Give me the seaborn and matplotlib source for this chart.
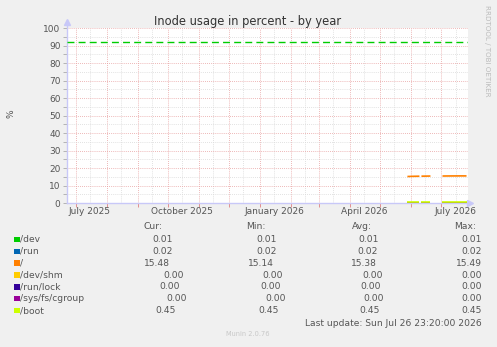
import numpy as np
import pandas as pd
import matplotlib
matplotlib.use("Agg")
import matplotlib.pyplot as plt
import matplotlib.dates as mdates
from matplotlib.patches import Rectangle
from matplotlib.ticker import MultipleLocator, NullFormatter
import seaborn as sns

# ---------------- data ----------------
series_names = ["/dev", "/run", "/", "/dev/shm", "/run/lock", "/sys/fs/cgroup", "/boot"]
series_colors = ["#00CC00", "#0066B3", "#FF8000", "#FFCC00", "#330099", "#990099", "#CCFF00"]

sample_dates = ["2026-05-28", "2026-06-03", "2026-06-09",
                "2026-06-11", "2026-06-15", "2026-06-20",
                "2026-07-02", "2026-07-08", "2026-07-14", "2026-07-20", "2026-07-26"]
segment_ids = [0, 0, 0, 1, 1, 1, 2, 2, 2, 2, 2]

dev_values = [0.01, 0.01, 0.01, 0.01, 0.01, 0.01, 0.01, 0.01, 0.01, 0.01, 0.01]
run_values = [0.02, 0.02, 0.02, 0.02, 0.02, 0.02, 0.02, 0.02, 0.02, 0.02, 0.02]
root_values = [15.14, 15.25, 15.31, 15.33, 15.36, 15.40, 15.42, 15.45, 15.47, 15.49, 15.48]
shm_values = [0.00, 0.00, 0.00, 0.00, 0.00, 0.00, 0.00, 0.00, 0.00, 0.00, 0.00]
lock_values = [0.00, 0.00, 0.00, 0.00, 0.00, 0.00, 0.00, 0.00, 0.00, 0.00, 0.00]
cgroup_values = [0.00, 0.00, 0.00, 0.00, 0.00, 0.00, 0.00, 0.00, 0.00, 0.00, 0.00]
boot_values = [0.45, 0.45, 0.45, 0.45, 0.45, 0.45, 0.45, 0.45, 0.45, 0.45, 0.45]

cur_values = ["0.01", "0.02", "15.48", "0.00", "0.00", "0.00", "0.45"]
min_values = ["0.01", "0.02", "15.14", "0.00", "0.00", "0.00", "0.45"]
avg_values = ["0.01", "0.02", "15.38", "0.00", "0.00", "0.00", "0.45"]
max_values = ["0.01", "0.02", "15.49", "0.00", "0.00", "0.00", "0.45"]

warning_level = 92
x_start = "2025-06-21 23:20"
x_end = "2026-07-26 23:20"
x_label_dates = ["2025-07-15", "2025-10-15", "2026-01-15", "2026-04-15", "2026-07-15"]
x_tick_labels = ["July 2025", "October 2025", "January 2026", "April 2026", "July 2026"]

title_text = "Inode usage in percent - by year"
y_label = "%"
last_update = "Last update: Sun Jul 26 23:20:00 2026"
footer = "Munin 2.0.76"
side_text = "RRDTOOL / TOBI OETIKER"

# ---------------- build frame ----------------
all_values = [dev_values, run_values, root_values, shm_values, lock_values, cgroup_values, boot_values]
rows = []
for name, vals in zip(series_names, all_values):
    for d, s, v in zip(sample_dates, segment_ids, vals):
        rows.append({"date": pd.Timestamp(d), "seg": s, "value": v, "series": name})
df = pd.DataFrame(rows)

# ---------------- figure ----------------
W, H = 497, 347
plt.rcParams["font.family"] = ["DejaVu Sans"]
fig = plt.figure(figsize=(W / 100, H / 100), dpi=100, facecolor="#F0F0F0")

def fx(x):
    return x / W

def fy(y):
    return 1 - y / H

ax = fig.add_axes([fx(66.7), fy(203), (467.5 - 66.7) / W, 175 / H])
ax.set_facecolor("white")

sns.lineplot(data=df, x="date", y="value", hue="series", units="seg", estimator=None,
             hue_order=series_names, palette=dict(zip(series_names, series_colors)),
             linewidth=1.2, legend=False, ax=ax, zorder=3, solid_capstyle="butt")

ax.axhline(warning_level, color="#00CC00", linewidth=1.0, dashes=(5, 3), zorder=3)

ax.set_xlim(pd.Timestamp(x_start), pd.Timestamp(x_end))
ax.set_ylim(0, 100)
ax.set_xlabel("")
ax.set_ylabel("")

# y axis
ax.yaxis.set_major_locator(MultipleLocator(10))
ax.yaxis.set_minor_locator(MultipleLocator(5))
ax.tick_params(axis="y", which="both", direction="out", length=3, width=0.6,
               color="#AAAAAA", labelsize=6.5, labelcolor="#555555", pad=1.5)

# x axis
ax.xaxis.set_major_locator(mdates.MonthLocator())
ax.xaxis.set_major_formatter(NullFormatter())
mid_months = pd.date_range("2025-07-01", "2026-07-01", freq="MS") + pd.Timedelta(days=14)
label_map = dict(zip([pd.Timestamp(d) for d in x_label_dates], x_tick_labels))
ax.set_xticks(mid_months, labels=[label_map.get(d, "") for d in mid_months], minor=True)
ax.tick_params(axis="x", which="major", direction="out", length=3, width=0.6, color="#E08080")
ax.tick_params(axis="x", which="minor", length=0, labelsize=6.5, labelcolor="#555555", pad=3)

# grids
ax.grid(which="major", color="#E8A0A0", linestyle=(0, (1, 1.5)), linewidth=0.6, zorder=0)
ax.grid(which="minor", color="#D8D8D8", linestyle=(0, (1, 1.5)), linewidth=0.6, zorder=0)
ax.set_axisbelow(True)

for side in ["top", "right"]:
    ax.spines[side].set_visible(False)
for side in ["left", "bottom"]:
    ax.spines[side].set_color("#C8C8F8")
    ax.spines[side].set_linewidth(1.0)
ax.spines["left"].set_bounds(0, 104)
ax.plot([0], [1.035], marker="^", color="#C8C8F8", markersize=4, transform=ax.transAxes, clip_on=False)
ax.plot([1.007], [0], marker=">", color="#C8C8F8", markersize=4, transform=ax.transAxes, clip_on=False)

# texts
fig.text(fx(248), fy(22), title_text, ha="center", va="center", fontsize=8.3, color="#333333")
fig.text(fx(10.5), fy(114), y_label, ha="center", va="center", rotation=90, fontsize=6.5, color="#555555")
fig.text(fx(487), fy(51), side_text, ha="center", va="center", rotation=270, fontsize=5.1, color="#BBBBBB")

# legend
hdr_y = 226.5
fs = 6.6
tc = "#555555"
fig.text(fx(143.3), fy(hdr_y), "Cur:", ha="left", va="center", fontsize=fs, color=tc)
fig.text(fx(246.5), fy(hdr_y), "Min:", ha="left", va="center", fontsize=fs, color=tc)
fig.text(fx(351.7), fy(hdr_y), "Avg:", ha="left", va="center", fontsize=fs, color=tc)
fig.text(fx(454), fy(hdr_y), "Max:", ha="left", va="center", fontsize=fs, color=tc)

cur_x = [173, 173, 170, 184, 180, 187, 176]
min_x = [276.7, 276.7, 274, 283.3, 281, 286, 278.3]
avg_x = [378.3, 378.3, 377.3, 383.3, 381, 384.3, 380]
max_x = [481.7] * 7
for i, (name, col) in enumerate(zip(series_names, series_colors)):
    yy = 239.5 + i * 11.85
    fig.patches.append(Rectangle((fx(14), fy(yy + 2.7)), 5.5 / W, 5.5 / H,
                                 transform=fig.transFigure, facecolor=col, edgecolor="none"))
    fig.text(fx(20.3), fy(yy), name, ha="left", va="center", fontsize=fs, color=tc)
    fig.text(fx(cur_x[i]), fy(yy), cur_values[i], ha="right", va="center", fontsize=fs, color=tc)
    fig.text(fx(min_x[i]), fy(yy), min_values[i], ha="right", va="center", fontsize=fs, color=tc)
    fig.text(fx(avg_x[i]), fy(yy), avg_values[i], ha="right", va="center", fontsize=fs, color=tc)
    fig.text(fx(max_x[i]), fy(yy), max_values[i], ha="right", va="center", fontsize=fs, color=tc)

fig.text(fx(481.7), fy(323.5), last_update, ha="right", va="center", fontsize=fs, color=tc)
fig.text(fx(248), fy(334.5), footer, ha="center", va="center", fontsize=4.8, color="#C8C8C8")

fig.savefig("out.png", dpi=100, facecolor=fig.get_facecolor())
